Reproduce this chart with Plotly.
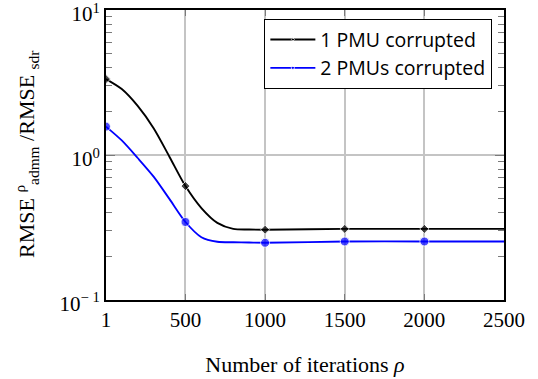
import plotly.graph_objects as go

# Curve samples (iterations -> RMSE ratio)
iterations = [1, 100, 200, 300, 400, 500, 600, 700, 800, 900, 1000, 1500, 2000, 2500]
pmu1 = [3.34, 2.85, 2.18, 1.53, 0.97, 0.61, 0.43, 0.34, 0.309, 0.306, 0.305, 0.309, 0.309, 0.309]
pmu2 = [1.57, 1.26, 0.953, 0.709, 0.496, 0.345, 0.271, 0.252, 0.250, 0.249, 0.248, 0.253, 0.253, 0.253]
# iterations that carry a marker in the reference
marked = [1, 500, 1000, 1500, 2000]

x_tickvals = [1, 500, 1000, 1500, 2000, 2500]
x_ticktext = ["1", "500", "1000", "1500", "2000", "2500"]
y_tickvals = [0.1, 1, 10]
y_ticktext = ["10<sup>− 1</sup>", "10<sup>0</sup>", "10<sup>1</sup>"]
y_minor = [0.2, 0.3, 0.4, 0.5, 0.6, 0.7, 0.8, 0.9, 2, 3, 4, 5, 6, 7, 8, 9]

fig = go.Figure()
fig.add_trace(go.Scatter(
    x=iterations, y=pmu1, name="1 PMU corrupted", legendgroup="a",
    mode="lines+markers",
    line=dict(color="black", width=1.9, shape="spline", smoothing=0.8),
    marker=dict(symbol="diamond", color="black",
                size=[7 if it in marked else 0 for it in iterations]),
))
fig.add_trace(go.Scatter(
    x=iterations, y=pmu2, name="2 PMUs corrupted", legendgroup="b",
    mode="lines+markers",
    line=dict(color="blue", width=1.8, shape="spline", smoothing=0.8),
    marker=dict(symbol="circle", color="blue",
                size=[9 if it in marked else 0 for it in iterations]),
))

serif = "Liberation Serif, DejaVu Serif, serif"
tick_gray = "#7a7a7a"
fig.update_layout(
    width=538, height=379,
    margin=dict(l=106, r=34, t=10, b=79, autoexpand=False),
    plot_bgcolor="white", paper_bgcolor="white",
    font=dict(family=serif, color="black", size=21),
    showlegend=True,
    legend=dict(
        x=0.970, y=0.969, xanchor="right", yanchor="top",
        bgcolor="white", bordercolor="black", borderwidth=1.3,
        font=dict(family="Open Sans, Liberation Sans, sans-serif", size=19.5),
        tracegroupgap=5, traceorder="normal", itemwidth=45,
    ),
    xaxis=dict(
        range=[1, 2500], tickvals=x_tickvals, ticktext=x_ticktext,
        showgrid=True, gridcolor="#c4c4c4", gridwidth=1.5,
        showline=True, linecolor="black", linewidth=2, mirror="ticks",
        ticks="inside", ticklen=6, tickcolor=tick_gray,
        zeroline=False, automargin=False,
        title=dict(text="Number of iterations <i>ρ</i>", font=dict(size=22), standoff=25),
        tickfont=dict(size=21),
    ),
    yaxis=dict(
        type="log", range=[-1.0005, 1.0005], tickvals=y_tickvals, ticktext=y_ticktext,
        showgrid=True, gridcolor="#c4c4c4", gridwidth=1.5,
        showline=True, linecolor="black", linewidth=2, mirror="ticks",
        ticks="inside", ticklen=9, tickcolor=tick_gray,
        minor=dict(ticks="inside", ticklen=6, tickcolor=tick_gray, showgrid=False,
                   tickvals=y_minor),
        ticklabelshift=4, ticklabeloverflow="allow", automargin=False,
        tickfont=dict(size=21),
    ),
    yaxis2=dict(
        type="log", range=[-1.0005, 1.0005], overlaying="y", side="right", anchor="x",
        tickvals=y_tickvals, showticklabels=False, showgrid=False, zeroline=False,
        ticks="inside", ticklen=9, tickcolor=tick_gray,
        minor=dict(ticks="inside", ticklen=6, tickcolor=tick_gray, showgrid=False,
                   tickvals=y_minor),
        showline=False, automargin=False,
    ),
    annotations=[dict(
        text="RMSE <sup>ρ</sup><sub>admm</sub> /RMSE <sub>sdr</sub>",
        xref="paper", yref="paper", x=-0.201, y=0.5, xanchor="center", yanchor="middle",
        textangle=-90, showarrow=False, font=dict(family=serif, size=22),
    )],
)

fig.write_html("out.html", config={"displayModeBar": False},
               post_script="document.body.style.margin='0px';")
